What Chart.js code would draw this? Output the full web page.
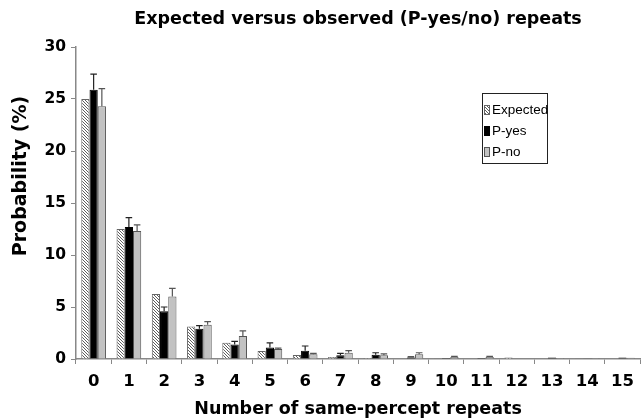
<!DOCTYPE html>
<html>
<head>
<meta charset="utf-8">
<script src="https://cdn.jsdelivr.net/npm/chart.js@4"></script>
<style>
html,body{margin:0;padding:0;background:#fff;overflow:hidden;}
#wrap{width:642px;height:420px;}
</style>
</head>
<body>
<div id="wrap"><canvas id="c" width="642" height="420"></canvas></div>
<script>
const categories = ['0','1','2','3','4','5','6','7','8','9','10','11','12','13','14','15'];
const expected = [25, 12.5, 6.25, 3.12, 1.56, 0.78, 0.39, 0.2, 0.1, 0.05, 0.03, 0.05, 0.15, 0.05, 0.03, 0.05];
const pYes     = [25.9, 12.7, 4.6, 2.9, 1.4, 1.1, 0.8, 0.35, 0.4, 0.15, 0.1, 0.1, 0.05, 0.15, 0.08, 0.15];
const pYesErr  = [27.4, 13.6, 5.0, 3.2, 1.7, 1.55, 1.25, 0.55, 0.6, 0.2, 0.12, 0.12, 0.07, 0.18, 0.1, 0.18];
const pNo      = [24.3, 12.3, 6.0, 3.3, 2.2, 0.95, 0.45, 0.6, 0.35, 0.45, 0.2, 0.2, 0.05, 0.1, 0.1, 0.12];
const pNoErr   = [26.0, 12.9, 6.8, 3.6, 2.7, 1.05, 0.55, 0.8, 0.5, 0.6, 0.25, 0.25, 0.07, 0.12, 0.12, 0.15];
const yTicks = [0, 5, 10, 15, 20, 25, 30];
const yTitle = 'Probability (%)';

function hatch(){
  const s = 3;
  const c = document.createElement('canvas');
  c.width = s; c.height = s;
  const g = c.getContext('2d');
  g.fillStyle = '#ffffff'; g.fillRect(0,0,s,s);
  g.strokeStyle = '#5e5e5e'; g.lineWidth = 1;
  g.beginPath();
  g.moveTo(-1,-1); g.lineTo(s+1,s+1);
  g.moveTo(-1,s-1); g.lineTo(1,s+1);
  g.moveTo(s-1,-1); g.lineTo(s+1,1);
  g.stroke();
  return g.createPattern(c,'repeat');
}
const hatchPat = hatch();

const BOLD = "'DejaVu Sans', sans-serif";
const LEG = "'Liberation Sans', Arial, sans-serif";

const errorBars = {
  id:'errorBars',
  afterDatasetsDraw(chart){
    const ctx = chart.ctx;
    const y = chart.scales.y;
    chart.data.datasets.forEach((ds,i)=>{
      if(!ds.errUpper) return;
      const meta = chart.getDatasetMeta(i);
      ctx.save();
      ctx.strokeStyle = ds.errColor; ctx.lineWidth = 1.2;
      meta.data.forEach((bar,j)=>{
        const top = y.getPixelForValue(ds.data[j]);
        const up = y.getPixelForValue(ds.errUpper[j]);
        if(top - up < 0.5) return;
        const w = bar.width*0.4;
        ctx.beginPath();
        ctx.moveTo(bar.x, top); ctx.lineTo(bar.x, up);
        ctx.moveTo(bar.x-w, up); ctx.lineTo(bar.x+w, up);
        ctx.stroke();
      });
      ctx.restore();
    });
  }
};

const extras = {
  id:'extras',
  afterDraw(chart){
    const ctx = chart.ctx;
    const a = chart.chartArea;
    // y axis title
    ctx.save();
    ctx.translate(21, 176);
    ctx.rotate(-Math.PI/2);
    ctx.font = "bold 19px " + BOLD;
    ctx.fillStyle = '#000';
    ctx.textAlign = 'center';
    ctx.textBaseline = 'middle';
    ctx.fillText(yTitle, 0, 0);
    ctx.restore();
    // boxed legend
    const x0 = a.left + 406, y0 = a.top + 46, w = 65, h = 70;
    ctx.save();
    ctx.strokeStyle = '#222'; ctx.lineWidth = 1;
    ctx.strokeRect(x0+0.5, y0+0.5, w, h);
    ctx.font = "13.5px " + LEG;
    ctx.textBaseline = 'middle';
    chart.data.datasets.forEach((ds,i)=>{
      const cy = y0 + 17 + i*21;
      ctx.fillStyle = ds.backgroundColor;
      ctx.fillRect(x0+2, cy-4.5, 5, 9);
      ctx.strokeStyle = ds.borderColor; ctx.lineWidth = 1;
      ctx.strokeRect(x0+2.5, cy-4.5, 5, 9);
      ctx.fillStyle = '#000';
      ctx.fillText(ds.label, x0+10, cy+0.5);
    });
    ctx.restore();
  }
};

new Chart(document.getElementById('c'), {
  type:'bar',
  data:{
    labels: categories,
    datasets:[
      {label:'Expected', data:expected, backgroundColor:hatchPat, borderColor:'#666', borderWidth:1},
      {label:'P-yes', data:pYes, backgroundColor:'#000', borderColor:'#000', borderWidth:1, errUpper:pYesErr, errColor:'#222'},
      {label:'P-no', data:pNo, backgroundColor:'#c2c2c2', borderColor:'#555', borderWidth:1, errUpper:pNoErr, errColor:'#555'}
    ]
  },
  options:{
    responsive:false,
    animation:false,
    devicePixelRatio:1,
    layout:{padding:{top:0,right:-1,left:0,bottom:0}},
    datasets:{bar:{categoryPercentage:0.7, barPercentage:1.0}},
    plugins:{
      legend:{display:false},
      tooltip:{enabled:false},
      title:{display:true, fullSize:false, text:'Expected versus observed (P-yes/no) repeats', color:'#000',
        font:{family:BOLD, size:17.5, weight:'bold'}, padding:{top:9,bottom:17}},
    },
    scales:{
      x:{
        afterFit(s){ s.height = 61; },
        grid:{display:true, drawOnChartArea:false, drawTicks:true, tickLength:5, color:'#888', offset:true},
        border:{display:true, color:'#888', width:1.5},
        ticks:{color:'#000', font:{family:BOLD, size:16.5, weight:'bold'}, padding:8, maxRotation:0, autoSkip:false},
        title:{display:true, text:'Number of same-percept repeats', color:'#000', font:{family:BOLD, size:17.5, weight:'bold'}, padding:{top:2,bottom:0}}
      },
      y:{
        min:0, max:30,
        afterFit(s){ s.width = 76; },
        afterBuildTicks(s){ s.ticks = yTicks.map(v=>({value:v})); },
        grid:{display:true, drawOnChartArea:false, drawTicks:true, tickLength:5, color:'#888'},
        border:{display:true, color:'#888', width:1.5},
        ticks:{color:'#000', font:{family:BOLD, size:15.5, weight:'bold'}, padding:5}
      }
    }
  },
  plugins:[errorBars, extras]
});
</script>
</body>
</html>
